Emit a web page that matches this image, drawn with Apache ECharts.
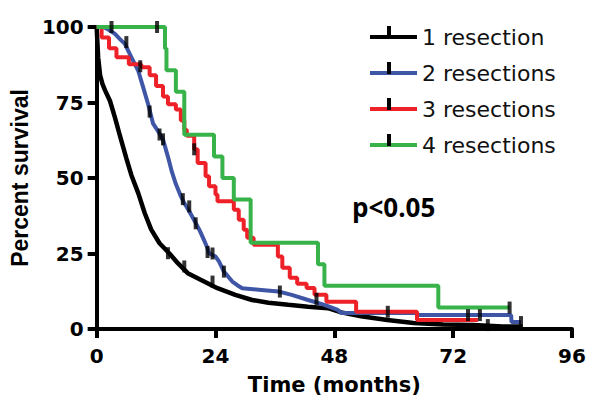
<!DOCTYPE html>
<html><head><meta charset="utf-8">
<script src="https://cdn.jsdelivr.net/npm/echarts@6/dist/echarts.min.js"></script>
<style>html,body{margin:0;padding:0;background:#fff}#c{width:600px;height:417px}</style>
</head><body><div id="c"></div>
<script>
const seriesNames = ['1 resection', '2 resections', '3 resections', '4 resections'];
const xTicks = [0, 24, 48, 72, 96];
const yTicks = [0, 25, 50, 75, 100];
const pLabel = 'p<0.05';

// 1 resection (black)
const oneMonths = [0, 0.3, 0.7, 1.2, 1.7, 2.7, 3.7, 4.7, 6, 7, 8.4, 9.7, 11, 12.7, 14.7, 16.4, 18.4, 21, 24.4, 28, 31.4, 34.7, 38.7, 42.7, 46.7, 49.4, 53.4, 58.7, 64, 70, 76, 82, 86];
const onePct    = [100, 90, 84, 81, 79, 75.5, 70, 64, 56.5, 51, 45, 38.4, 33, 28.4, 25, 21.8, 18.5, 16.3, 13.5, 11.3, 9.6, 8.7, 8, 7.4, 6.9, 5.5, 4.2, 3, 2, 1.5, 1.3, 0.8, 0.8];
// 2 resections (blue)
const twoMonths = [0, 1.4, 2.5, 3.7, 4.7, 5.7, 7, 8.4, 9.4, 10.4, 11.4, 12.4, 13.4, 14.4, 15.2, 16, 17, 17.7, 18.7, 19.7, 20.7, 21.4, 22.2, 22.7, 24, 24.7, 25.7, 26.5, 27.4, 28.4, 29.4, 32.7, 36.7, 39.4, 42.7, 46, 48.7, 49.4, 64.7, 64.8, 83.7, 83.8, 85.7];
const twoPct    = [100, 100, 99, 97.7, 96, 94.4, 90, 85.5, 80, 74.4, 68, 65.5, 62.8, 57, 52, 48, 44, 41.7, 39, 36, 33, 30.5, 27.5, 25.1, 24, 22.4, 19, 17.5, 15.7, 14.5, 13.5, 13, 12.4, 11.3, 9.6, 8, 6.3, 5.3, 5.3, 4.6, 4.6, 2.3, 2.3];
// 3 resections (red)
const threeMonths = [0, 1, 2.5, 4, 6.5, 9, 10.7, 12, 13.4, 14.4, 16, 17, 17.7, 18.2, 19.7, 20.4, 22, 22.7, 24, 24.4, 27.7, 28.7, 29.7, 30.4, 31.7, 36.6, 37.5, 39, 40.5, 42.4, 44, 46.4, 52.4, 64.7, 77];
const threePct    = [100, 96.5, 93, 90, 87.7, 86.7, 84, 80.5, 77, 74.4, 72.7, 69, 66, 64, 59.5, 55, 50.6, 47.3, 44.5, 42.3, 39.5, 36.2, 32.9, 30.2, 27.9, 24, 20.3, 17, 15, 13.6, 11.3, 9, 5.7, 3, 3];
// 4 resections (green)
const fourMonths = [0, 13.8, 14.1, 16, 17.7, 23.7, 25.4, 27.7, 31.1, 44.7, 46, 69, 83.4];
const fourPct    = [100, 92.9, 85.7, 78.6, 64.3, 57.1, 50, 42.9, 28.6, 21.4, 14.3, 7.1, 7.1];

// censored observations
const oneCensorMonths = [14.4, 17.7, 23.4, 79];
const oneCensorPct    = [25.1, 20.7, 15.7, 1.3];
const twoCensorMonths = [3, 6, 8.8, 10.7, 12.7, 13.4, 17.4, 18.7, 20, 22.4, 23.4, 25.7, 37, 75, 77.4, 85.7];
const twoCensorPct    = [100, 95, 87, 72, 64.4, 62.8, 43, 40.6, 35, 25.5, 25, 19, 12.4, 4.6, 4.6, 2.3];
const threeCensorMonths = [19.7, 44.4, 58.8];
const threeCensorPct    = [59.5, 10, 5.7];
const fourCensorMonths = [12.2, 83.4];
const fourCensorPct    = [100, 7.1];

const colors = ['#000000', '#3f55a6', '#ee2128', '#37b34a'];
const widths = [4.5, 4, 4, 4];
const zip = (a, b) => a.map((v, i) => [v, b[i]]);

const curves = [
  { m: oneMonths, p: onePct, step: false },
  { m: twoMonths, p: twoPct, step: false },
  { m: threeMonths, p: threePct, step: 'end' },
  { m: fourMonths, p: fourPct, step: 'end' }
];
const censors = [
  [oneCensorMonths, oneCensorPct],
  [twoCensorMonths, twoCensorPct],
  [threeCensorMonths, threeCensorPct],
  [fourCensorMonths, fourCensorPct]
];

const series = curves.map((c, i) => ({
  name: seriesNames[i], type: 'line', step: c.step, data: zip(c.m, c.p),
  showSymbol: false, symbol: 'none', animation: false, z: 2 + i,
  lineStyle: { color: colors[i], width: widths[i] }, itemStyle: { color: colors[i] }
})).concat(censors.map((c, i) => ({
  name: 'censor' + i, type: 'scatter', data: zip(c[0], c[1]),
  symbol: 'rect', symbolSize: [4, 12], itemStyle: { color: '#000' },
  animation: false, z: 10, silent: true
})));

const legendTop = 21, legendRow = 36;
const chart = echarts.init(document.getElementById('c'), null, { renderer: 'svg' });
chart.setOption({
  animation: false,
  grid: { left: 93, right: 28, top: 27, bottom: 88, containLabel: false },
  title: {
    text: pLabel, left: 347, top: 189,
    textStyle: { fontFamily: 'Open Sans', fontWeight: 'bold', fontSize: 26, color: '#000' }
  },
  legend: {
    data: seriesNames, orient: 'vertical', left: 365, top: legendTop,
    itemWidth: 47, itemHeight: 4, itemGap: legendRow - 22,
    icon: 'path://M0,0H47V4H0Z',
    textStyle: { fontFamily: 'DejaVu Sans', fontSize: 22, color: '#111', lineHeight: 22 }
  },
  graphic: seriesNames.map((n, i) => ({
    type: 'rect', shape: { x: 387, y: legendTop + 11 - 6 + i * legendRow, width: 4, height: 12 },
    style: { fill: '#000' }, z: 100
  })),
  xAxis: {
    type: 'value', min: xTicks[0], max: xTicks[xTicks.length - 1], interval: xTicks[1] - xTicks[0],
    name: 'Time (months)', nameLocation: 'middle', nameGap: 45,
    nameTextStyle: { fontFamily: 'DejaVu Sans', fontWeight: 'bold', fontSize: 21, color: '#000' },
    axisLine: { lineStyle: { color: '#000', width: 4 } },
    axisTick: { length: 9, lineStyle: { color: '#000', width: 4 } },
    axisLabel: { fontFamily: 'DejaVu Sans', fontWeight: 'bold', fontSize: 20, color: '#000', margin: 17 },
    splitLine: { show: false }
  },
  yAxis: {
    type: 'value', min: yTicks[0], max: yTicks[yTicks.length - 1], interval: yTicks[1] - yTicks[0],
    name: 'Percent survival', nameLocation: 'middle', nameGap: 57, nameRotate: 90,
    nameTextStyle: { fontFamily: 'Liberation Sans', fontWeight: 'bold', fontSize: 23, color: '#000' },
    axisLine: { show: true, lineStyle: { color: '#000', width: 4 } },
    axisTick: { show: true, length: 9, lineStyle: { color: '#000', width: 4 } },
    axisLabel: { fontFamily: 'DejaVu Sans', fontWeight: 'bold', fontSize: 20, color: '#000', margin: 13 },
    splitLine: { show: false }
  },
  series: series
});
</script>
</body></html>
